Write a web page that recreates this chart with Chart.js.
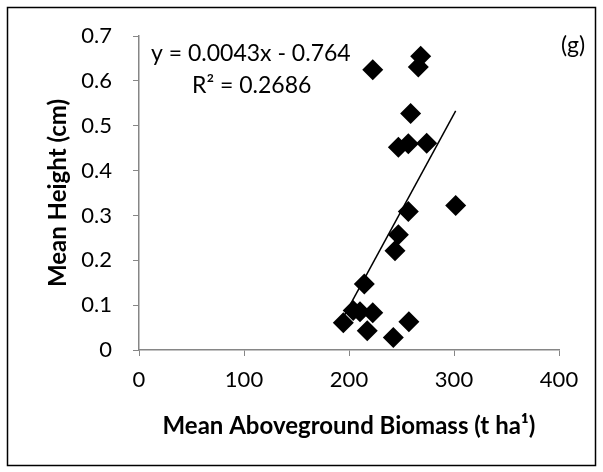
<!DOCTYPE html>
<html>
<head>
<meta charset="utf-8">
<script src="https://cdn.jsdelivr.net/npm/chart.js@4/dist/chart.umd.min.js"></script>
<style>
  html, body { margin: 0; padding: 0; background: #fff; }
  #wrap { width: 603px; height: 472px; }
</style>
</head>
<body>
<div id="wrap"><canvas id="myChart" width="603" height="472"></canvas></div>
<script>
// mean aboveground biomass (t ha-1) vs mean height (cm)
var biomass = [222.6, 268.3, 266, 258.7, 247, 256.5, 274, 256.5, 301.6, 247, 243.8, 214.6, 204, 210.5, 222.6, 194.6, 217.4, 257, 242.2];
var height  = [0.625, 0.655, 0.631, 0.527, 0.452, 0.46, 0.461, 0.309, 0.322, 0.257, 0.221, 0.147, 0.088, 0.085, 0.083, 0.061, 0.043, 0.063, 0.028];

// trendline as printed on the chart
var slope = 0.0043;
var intercept = -0.764;
var equationText = "y = 0.0043x - 0.764";
var r2Text = "R² = 0.2686";
var panelLabel = "(g)";

var points = biomass.map(function(b, i) { return { x: b, y: height[i] }; });
var xMin = Math.min.apply(null, biomass);
var xMax = Math.max.apply(null, biomass);
var trend = [
    { x: xMin, y: slope * xMin + intercept },
    { x: xMax, y: slope * xMax + intercept }
];

var FONT = "Lato, 'Liberation Sans', sans-serif";
var AXIS = '#868686';

var extras = {
    id: 'extras',
    afterDraw: function(chart) {
        var ctx = chart.ctx;
        ctx.save();
        // outer frame
        ctx.strokeStyle = '#000';
        ctx.lineWidth = 1.5;
        ctx.strokeRect(7.5, 7.5, 588, 458);
        // equation, R2 and panel label
        ctx.fillStyle = '#000';
        ctx.font = '23px ' + FONT;
        ctx.textBaseline = 'middle';
        ctx.textAlign = 'left';
        ctx.fillText(equationText, 151, 54);
        ctx.fillText(r2Text, 192, 86);
        ctx.textAlign = 'center';
        ctx.fillText(panelLabel, 573, 46);
        ctx.restore();
    }
};

var ctx = document.getElementById('myChart').getContext('2d');
var myChart = new Chart(ctx, {
    type: 'scatter',
    data: {
        datasets: [{
            label: 'Mean Height',
            data: points,
            pointStyle: 'rectRot',
            pointRadius: 10.5,
            pointHoverRadius: 10.5,
            backgroundColor: '#000',
            borderColor: '#000',
            borderWidth: 0,
            order: 1
        }, {
            type: 'line',
            label: 'Linear',
            data: trend,
            borderColor: '#000',
            borderWidth: 1.5,
            pointRadius: 0,
            fill: false,
            order: 2
        }]
    },
    options: {
        responsive: false,
        animation: false,
        layout: { padding: { left: 0, top: 36, right: 44, bottom: 0 } },
        plugins: {
            legend: { display: false },
            tooltip: { enabled: false }
        },
        scales: {
            x: {
                min: 0, max: 400,
                afterFit: function(scale) { scale.height = 122; },
                ticks: { stepSize: 100, color: '#000', padding: 11, font: { family: FONT, size: 22 } },
                grid: { drawOnChartArea: false, drawTicks: true, tickLength: 6, color: AXIS },
                border: { color: AXIS, width: 1.5 },
                title: {
                    display: true,
                    text: 'Mean Aboveground Biomass (t ha¹)',
                    color: '#000',
                    font: { family: FONT, size: 24, weight: 'bold' },
                    padding: { top: 0, bottom: 31 }
                }
            },
            y: {
                min: 0, max: 0.7,
                afterFit: function(scale) { scale.width = 139; },
                ticks: {
                    stepSize: 0.1, color: '#000', padding: 21,
                    font: { family: FONT, size: 22 },
                    callback: function(v) { return Math.round(v * 10) / 10; }
                },
                grid: { drawOnChartArea: false, drawTicks: true, tickLength: 6, color: AXIS },
                border: { color: AXIS, width: 1.5 },
                title: {
                    display: true,
                    text: 'Mean Height (cm)',
                    color: '#000',
                    font: { family: FONT, size: 24, weight: 'bold' },
                    padding: { top: 44, bottom: 0 }
                }
            }
        }
    },
    plugins: [extras]
});
</script>
</body>
</html>
